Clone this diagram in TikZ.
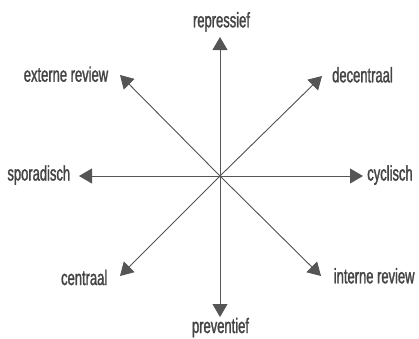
\documentclass[tikz,border=0pt]{standalone}
\usepackage{fontspec}
\setmainfont[FakeStretch=0.62,FakeBold=1.4]{Liberation Sans}
\usetikzlibrary{arrows.meta}
\definecolor{ln}{HTML}{555555}
\definecolor{tx}{HTML}{444444}
\tikzset{
  axis/.style={draw=ln, line width=0.9bp, -{Triangle[length=13bp,width=15bp]}, fill=ln},
  lbl/.style={anchor=base, inner sep=0pt, text=tx, font=\fontsize{21}{24}\selectfont}
}
\begin{document}
\begin{tikzpicture}[x=1bp,y=-1bp]
\useasboundingbox (0,0) rectangle (419,339);
\coordinate (c) at (220,176);
\coordinate (tN) at (220,37);
\coordinate (tS) at (220,317);
\coordinate (tE) at (363,176);
\coordinate (tW) at (79,176);
\coordinate (tNE) at (322,76);
\coordinate (tNW) at (120,75);
\coordinate (tSW) at (120,276);
\coordinate (tSE) at (321,276);
\foreach \t in {tN,tS,tE,tW,tNE,tNW,tSW,tSE}{
  \draw[axis] (c) -- (\t);
}
\node[lbl] (repressief) at (221.5,27.3) {repressief};
\node[lbl] (preventief) at (220.5,333) {preventief};
\node[lbl] (externe) at (66,81.7) {externe review};
\node[lbl] (decentraal) at (362.5,82.3) {decentraal};
\node[lbl] (sporadisch) at (38.8,180.5) {sporadisch};
\node[lbl] (cyclisch) at (390,180.5) {cyclisch};
\node[lbl] (centraal) at (84.2,285) {centraal};
\node[lbl] (interne) at (374.2,283.3) {interne review};
\end{tikzpicture}
\end{document}
